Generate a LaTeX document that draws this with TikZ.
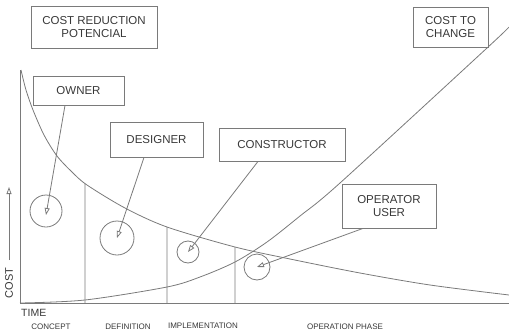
\documentclass[tikz,border=0pt]{standalone}
\usepackage{fontspec}
\setmainfont{Liberation Sans}
\usetikzlibrary{arrows.meta,intersections}
\definecolor{linegray}{HTML}{7A7A7A}
\definecolor{textgray}{HTML}{383838}
\tikzset{
  ln/.style={draw=linegray, line width=0.8pt},
  labelbox/.style={ln, rectangle, inner sep=0pt, align=center, text=textgray,
    font=\fontsize{11.5}{13}\selectfont},
  ring/.style={ln, circle, inner sep=0pt},
  pointer/.style={ln, -{Triangle[open, length=7pt, width=5pt]}},
  phase/.style={text=textgray, inner sep=0pt, font=\fontsize{8}{9}\selectfont},
}
\begin{document}
\begin{tikzpicture}[x=1pt, y=-1pt]
  \useasboundingbox (0,0) rectangle (509,335);

  % axes
  \coordinate (origin) at (20,303);
  \coordinate (ytop) at (20,70);
  \coordinate (xend) at (509,303);
  \draw[ln] (ytop) -- (origin) -- (xend);

  % cost reduction potential (falling) and cost to change (rising)
  \draw[ln, name path=fall] plot[smooth, tension=0.5] coordinates {
    (21,70) (26,90) (33,110) (44,135) (57,156) (72,172) (87,185) (125,208)
    (167,227) (235,247) (290,259) (360,273) (430,285) (509,295)};
  \draw[ln] plot[smooth, tension=0.5] coordinates {
    (20,303) (85,300) (167,287) (200,277) (235,262) (267,242) (300,216)
    (340,183) (487,48) (509,27)};

  % phase boundaries
  \foreach \px [count=\i] in {85,167,235} {
    \path[name path=v\i] (\px,303) -- (\px,60);
    \path[name intersections={of=fall and v\i, by=top\i}];
    \coordinate (bot\i) at (\px,303);
    \draw[ln] (bot\i) -- (top\i);
  }

  % labels
  \node[labelbox, minimum width=126, minimum height=42] (crp) at (94,27)
    {COST REDUCTION\\POTENCIAL};
  \node[labelbox, minimum width=75, minimum height=40] (ctc) at (450.5,27)
    {COST TO\\CHANGE};
  \node[labelbox, minimum width=91, minimum height=29] (owner) at (78.5,90.5) {OWNER};
  \node[labelbox, minimum width=93, minimum height=35] (designer) at (156.5,139.5) {DESIGNER};
  \node[labelbox, minimum width=126, minimum height=33] (constructor) at (282,144.5) {CONSTRUCTOR};
  \node[labelbox, minimum width=94, minimum height=44] (operator) at (389,206) {OPERATOR\\USER};

  % influence circles
  \node[ring, minimum size=32] (c1) at (46,211) {};
  \node[ring, minimum size=34] (c2) at (117,238) {};
  \node[ring, minimum size=22] (c3) at (188,252) {};
  \node[ring, minimum size=26] (c4) at (257,267) {};

  \draw[pointer] ([xshift=-13.5]owner.south) -- ([yshift=-4]c1.center);
  \draw[pointer] ([xshift=-12.5]designer.south) -- (c2.center);
  \draw[pointer] ([xshift=-24]constructor.south) -- (c3.center);
  \draw[pointer] ([xshift=-26]operator.south) -- (c4.center);

  % axis titles
  \coordinate (costarrowfoot) at (9,260);
  \coordinate (costarrowtip) at (9,187);
  \draw[pointer] (costarrowfoot) -- (costarrowtip);
  \node[text=textgray, inner sep=0pt, rotate=90, font=\fontsize{11}{12}\selectfont] (cost) at (9,283) {COST};
  \node[text=textgray, inner sep=0pt, anchor=west, font=\fontsize{10.5}{12}\selectfont] (time) at (21,313) {TIME};

  % phases
  \node[phase] (concept) at (51,327) {CONCEPT};
  \node[phase] (definition) at (128,327) {DEFINITION};
  \node[phase] (implementation) at (203,326) {IMPLEMENTATION};
  \node[phase] (operation) at (345,327) {OPERATION PHASE};
\end{tikzpicture}
\end{document}
